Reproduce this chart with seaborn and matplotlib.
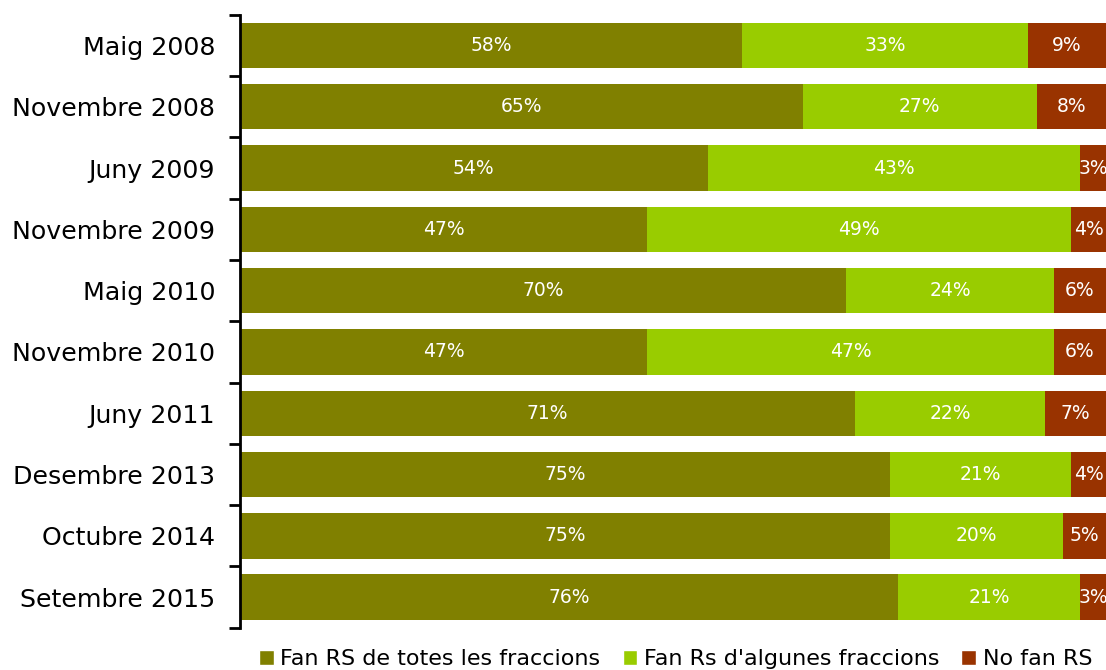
import pandas as pd
import seaborn as sns
import matplotlib.pyplot as plt
from matplotlib.patches import Patch

# data
periods = ['Maig 2008', 'Novembre 2008', 'Juny 2009', 'Novembre 2009', 'Maig 2010',
           'Novembre 2010', 'Juny 2011', 'Desembre 2013', 'Octubre 2014', 'Setembre 2015']
totes = [58, 65, 54, 47, 70, 47, 71, 75, 75, 76]
algunes = [33, 27, 43, 49, 24, 47, 22, 21, 20, 21]
no_fan = [9, 8, 3, 4, 6, 6, 7, 4, 5, 3]
series = ['Fan RS de totes les fraccions', "Fan Rs d'algunes fraccions", 'No fan RS']
colors = ['#808000', '#99CC00', '#993300']

df = pd.DataFrame({'period': periods, 'totes': totes, 'algunes': algunes, 'no_fan': no_fan})
df['c1'] = df['totes']
df['c2'] = df['totes'] + df['algunes']
df['c3'] = df['c2'] + df['no_fan']

sns.set_style('white')
plt.rcParams['font.family'] = ['DejaVu Sans']
plt.rcParams['text.color'] = 'black'

fig = plt.figure(figsize=(11.06, 6.70), dpi=100)
ax = fig.add_axes([0.217, 0.063, 0.783, 0.915])

# stacked bars: draw cumulative layers from the back
for col, c in zip(['c3', 'c2', 'c1'], colors[::-1]):
    sns.barplot(data=df, y='period', x=col, color=c, orient='h', width=0.74,
                saturation=1, ax=ax, edgecolor='none')

# segment labels
for i, row in df.iterrows():
    starts = [0, row['c1'], row['c2']]
    vals = [row['totes'], row['algunes'], row['no_fan']]
    for s, v in zip(starts, vals):
        ax.text(s + v / 2, i, f'{v}%', ha='center', va='center', color='white', fontsize=13.5)

ax.set_xlim(0, 100)
ax.set_ylim(len(periods) - 0.5, -0.5)
ax.set_xlabel('')
ax.set_ylabel('')
ax.set_xticks([])
ax.tick_params(axis='y', which='major', length=0, labelsize=18.2, pad=18, colors='black')
ax.set_yticks([i - 0.5 for i in range(len(periods) + 1)], minor=True)
ax.tick_params(axis='y', which='minor', left=True, length=8, width=2, color='black')
for side in ['top', 'right', 'bottom']:
    ax.spines[side].set_visible(False)
ax.spines['left'].set_color('black')
ax.spines['left'].set_linewidth(2)

handles = [Patch(facecolor=c, label=s) for c, s in zip(colors, series)]
leg = ax.legend(handles=handles, loc='upper center', bbox_to_anchor=(0.503, -0.02), ncol=3,
                frameon=False, fontsize=16, handlelength=0.65, handleheight=0.65,
                handletextpad=0.3, columnspacing=1.0, borderaxespad=0)
for t in leg.get_texts():
    t.set_color('black')

fig.savefig('out.png', dpi=100)
